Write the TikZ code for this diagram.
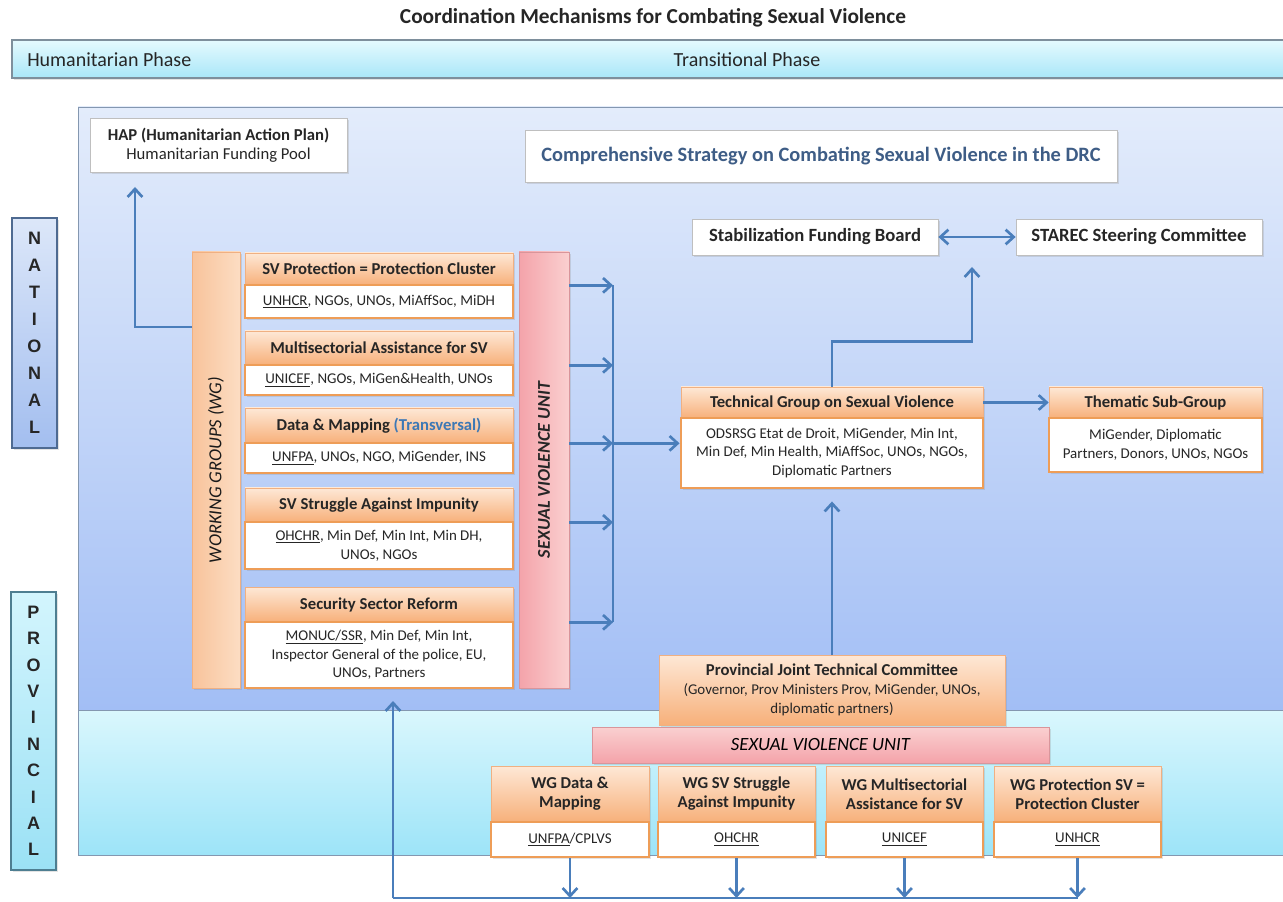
\documentclass[tikz,border=0pt]{standalone}
\usepackage{fontspec}
\setmainfont{Carlito}
\newfontfamily\natfont{Liberation Sans}
\usetikzlibrary{arrows.meta,shadows}

\definecolor{txt}{HTML}{262626}
\definecolor{wgtxt}{HTML}{1A1A1A}
\definecolor{arrowc}{HTML}{4A7EBB}
\definecolor{hdrtop}{HTML}{FEE8D6}
\definecolor{hdrbot}{HTML}{F7B07A}
\definecolor{hdrline}{HTML}{F0B082}
\definecolor{orangeb}{HTML}{EE9D57}
\definecolor{wgtop}{HTML}{FCDDC3}
\definecolor{wgbot}{HTML}{F8C39B}
\definecolor{svtop}{HTML}{FAD0D0}
\definecolor{svbot}{HTML}{F4A3AA}
\definecolor{svline}{HTML}{D9959B}
\definecolor{phtop}{HTML}{E5FAFE}
\definecolor{phbot}{HTML}{A9E7F8}
\definecolor{phline}{HTML}{7E8F9C}
\definecolor{uptop}{HTML}{E3ECFB}
\definecolor{upbot}{HTML}{A2BEF5}
\definecolor{lotop}{HTML}{DAF7FD}
\definecolor{lobot}{HTML}{9DE4F8}
\definecolor{panline}{HTML}{8497B0}
\definecolor{nattop}{HTML}{DCE7F9}
\definecolor{natbot}{HTML}{A3BEEF}
\definecolor{natline}{HTML}{4E6A91}
\definecolor{protop}{HTML}{D3F5FD}
\definecolor{probot}{HTML}{9BE1F5}
\definecolor{proline}{HTML}{4E7E91}
\definecolor{stratblue}{HTML}{3E5D86}
\definecolor{transblue}{HTML}{3D78B5}
\definecolor{wline}{HTML}{BFBFBF}

\newcommand{\hdfont}{\bfseries\fontsize{12.5}{14.3}\selectfont}
\newcommand{\ctfont}{\mdseries\fontsize{11.2}{14}\selectfont}

% \rbox{style}{name}{x1}{y1}{x2}{y2}{text}  (pixel coordinates, y downwards)
\newcommand{\rbox}[7]{\node[#1, minimum width={(#5-#3)*0.75pt}, minimum height={(#6-#4)*0.75pt}, align=center] (#2) at ({(#3+#5)/2},{(#4+#6)/2}) {#7};}

\tikzset{
  shad/.style={drop shadow={opacity=0.22, shadow xshift=1.2pt, shadow yshift=-1.2pt}},
  hdr/.style={shad, draw=hdrline, line width=0.5pt, top color=hdrtop, bottom color=hdrbot, font=\hdfont, text=txt, inner sep=0pt},
  body/.style={shad, draw=orangeb, line width=2.2pt, fill=white, font=\ctfont, text=txt, inner sep=0pt},
  wbox/.style={shad, draw=wline, line width=0.6pt, fill=white, text=txt, inner sep=0pt},
  wgbar/.style={shad, draw=hdrline, line width=0.5pt, left color=wgbot, right color=wgtop, font=\itshape\fontsize{13.8}{15}\selectfont, text=wgtxt, inner sep=0pt},
  svbar/.style={shad, draw=svline, line width=0.5pt, left color=svbot, right color=svtop, font=\bfseries\itshape\fontsize{13.5}{15}\selectfont, text=txt, inner sep=0pt},
  svlow/.style={shad, draw=svline, line width=0.5pt, top color=svtop, bottom color=svbot, font=\itshape\fontsize{14}{16}\selectfont, text=black, inner sep=0pt},
  natbox/.style={shad, draw=natline, line width=0.8pt, top color=nattop, bottom color=natbot, font=\natfont\bfseries\fontsize{13.5}{20.2}\selectfont, text=txt, inner sep=0pt},
  probox/.style={shad, draw=proline, line width=0.8pt, top color=protop, bottom color=probot, font=\natfont\bfseries\fontsize{13.5}{19.8}\selectfont, text=txt, inner sep=0pt},
  arr/.style={draw=arrowc, line width=2pt, -{Straight Barb[length=6pt,width=11pt]}},
  arrboth/.style={draw=arrowc, line width=2pt, {Straight Barb[length=6pt,width=11pt]}-{Straight Barb[length=6pt,width=11pt]}},
  busline/.style={draw=arrowc, line width=2pt},
  phasetxt/.style={font=\fontsize{15}{16}\selectfont, text=txt, inner sep=0pt}
}

\begin{document}
\begin{tikzpicture}[x=0.75pt,y=-0.75pt]
\useasboundingbox (0,0) rectangle (1283,902);
\fill[white] (0,0) rectangle (1283,902);

% title
\node[font=\bfseries\fontsize{16}{18}\selectfont, text=txt] (title) at (653,18) {Coordination Mechanisms for Combating Sexual Violence};

% phase bar
\shadedraw[shad, top color=phtop, bottom color=phbot, draw=phline, line width=0.8pt] (12,40) rectangle (1290,78);
\node[phasetxt, anchor=west] (hum) at (27,60) {Humanitarian Phase};
\node[phasetxt] (trans) at (747,60) {Transitional Phase};

% panels
\shadedraw[shad, top color=uptop, bottom color=upbot, draw=panline, line width=0.7pt] (78,107) rectangle (1290,710);
\shadedraw[top color=lotop, bottom color=lobot, draw=panline, line width=0.7pt] (78,710) rectangle (1290,855);

% side labels
\rbox{natbox}{nat}{12}{218}{57}{448}{N\\A\\T\\I\\O\\N\\A\\L}
\rbox{probox}{prov}{11}{592}{56}{870}{P\\R\\O\\V\\I\\N\\C\\I\\A\\L}

% white boxes
\rbox{wbox, font=\hdfont}{hap}{90}{118}{347}{172}{HAP (Humanitarian Action Plan)\\\mdseries Humanitarian Funding Pool}
\rbox{wbox, font=\bfseries\fontsize{15.3}{17}\selectfont, text=stratblue}{strat}{525}{130}{1117}{182}{Comprehensive Strategy on Combating Sexual Violence in the DRC}
\rbox{wbox, font=\bfseries\fontsize{14}{16}\selectfont}{stab}{692}{219}{938}{255}{Stabilization Funding Board}
\rbox{wbox, font=\bfseries\fontsize{14}{16}\selectfont}{starec}{1016}{219}{1262}{255}{STAREC Steering Committee}

% working groups bar and SV unit bar
\node[wgbar, rotate=90, minimum width={436*0.75pt}, minimum height={48*0.75pt}] (wg) at (216,470) {WORKING GROUPS (WG)};
\node[svbar, rotate=90, minimum width={436*0.75pt}, minimum height={50*0.75pt}] (svu) at (544,470) {SEXUAL VIOLENCE UNIT};

% national working groups
\rbox{hdr}{b1h}{245}{253}{513}{285}{SV Protection = Protection Cluster}
\rbox{body}{b1b}{245}{285}{513}{318}{\underline{UNHCR}, NGOs, UNOs, MiAffSoc, MiDH}
\rbox{hdr}{b2h}{245}{331}{513}{365}{Multisectorial Assistance for SV}
\rbox{body}{b2b}{245}{365}{513}{395}{\underline{UNICEF}, NGOs, MiGen\&Health, UNOs}
\rbox{hdr}{b3h}{245}{408}{513}{443}{Data \& Mapping {\color{transblue}(Transversal)}}
\rbox{body}{b3b}{245}{443}{513}{473}{\underline{UNFPA}, UNOs, NGO, MiGender, INS}
\rbox{hdr}{b4h}{245}{488}{513}{522}{SV Struggle Against Impunity}
\rbox{body}{b4b}{245}{522}{513}{569}{\underline{OHCHR}, Min Def, Min Int, Min DH,\\UNOs, NGOs}
\rbox{hdr}{b5h}{245}{587}{513}{622}{Security Sector Reform}
\rbox{body}{b5b}{245}{622}{513}{688}{\underline{MONUC/SSR}, Min Def, Min Int,\\Inspector General of the police, EU,\\UNOs, Partners}

% technical group and thematic sub-group
\rbox{hdr}{tgh}{681}{387}{983}{418}{Technical Group on Sexual Violence}
\rbox{body}{tgb}{681}{418}{983}{488}{ODSRSG Etat de Droit, MiGender, Min Int,\\Min Def, Min Health, MiAffSoc, UNOs, NGOs,\\Diplomatic Partners}
\rbox{hdr}{thh}{1049}{387}{1262}{418}{Thematic Sub-Group}
\rbox{body}{thb}{1049}{418}{1262}{472}{MiGender, Diplomatic\\Partners, Donors, UNOs, NGOs}

% provincial
\rbox{hdr, font=\ctfont}{pjtc}{659}{655}{1005}{725}{\hdfont Provincial Joint Technical Committee\\(Governor, Prov Ministers Prov, MiGender, UNOs,\\diplomatic partners)}
\rbox{svlow}{svl}{592}{727}{1049}{763}{SEXUAL VIOLENCE UNIT}
\rbox{hdr}{lw1h}{491}{766}{649}{822}{WG Data \&\\Mapping}
\rbox{body}{lw1b}{491}{822}{649}{857}{\underline{UNFPA}/CPLVS}
\rbox{hdr}{lw2h}{658}{766}{815}{822}{WG SV Struggle\\Against Impunity}
\rbox{body}{lw2b}{658}{822}{815}{857}{\underline{OHCHR}}
\rbox{hdr}{lw3h}{826}{766}{983}{822}{WG Multisectorial\\Assistance for SV}
\rbox{body}{lw3b}{826}{822}{983}{857}{\underline{UNICEF}}
\rbox{hdr}{lw4h}{994}{766}{1161}{822}{WG Protection SV =\\Protection Cluster}
\rbox{body}{lw4b}{994}{822}{1161}{857}{\underline{UNHCR}}

% connectors
\coordinate (haptip) at (135,187);
\draw[arr] (wg.north |- 0,327) -| (haptip);

\coordinate (busx) at (613,0);
\foreach \b in {b1h,b2h,b3h,b4h,b5h}
  \draw[arr] (svu.south |- \b.south) -- (busx |- \b.south);
\draw[busline] (busx |- b1h.south) -- (busx |- b5h.south);
\draw[arr] (busx |- b3h.south) -- (tgb.west |- b3h.south);

\draw[arr] (tgh.east) -- (thh.west);
\coordinate (fundtip) at (972,267);
\draw[arr] (tgh.north) -- ++(0,-45) -| (fundtip);
\draw[arrboth] (stab.east) -- (starec.west);
\draw[arr, shorten >=9pt] (pjtc.north) -- (tgb.south);

\coordinate (busL) at (393,898);
\coordinate (ssrtip) at (393,701);
\foreach \w in {lw1b,lw2b,lw3b,lw4b}
  \draw[arr] (\w.south) -- (\w.south |- busL);
\draw[busline] (busL) -- (lw4b.south |- busL);
\draw[arr] (busL) -- (ssrtip);
\end{tikzpicture}
\end{document}
